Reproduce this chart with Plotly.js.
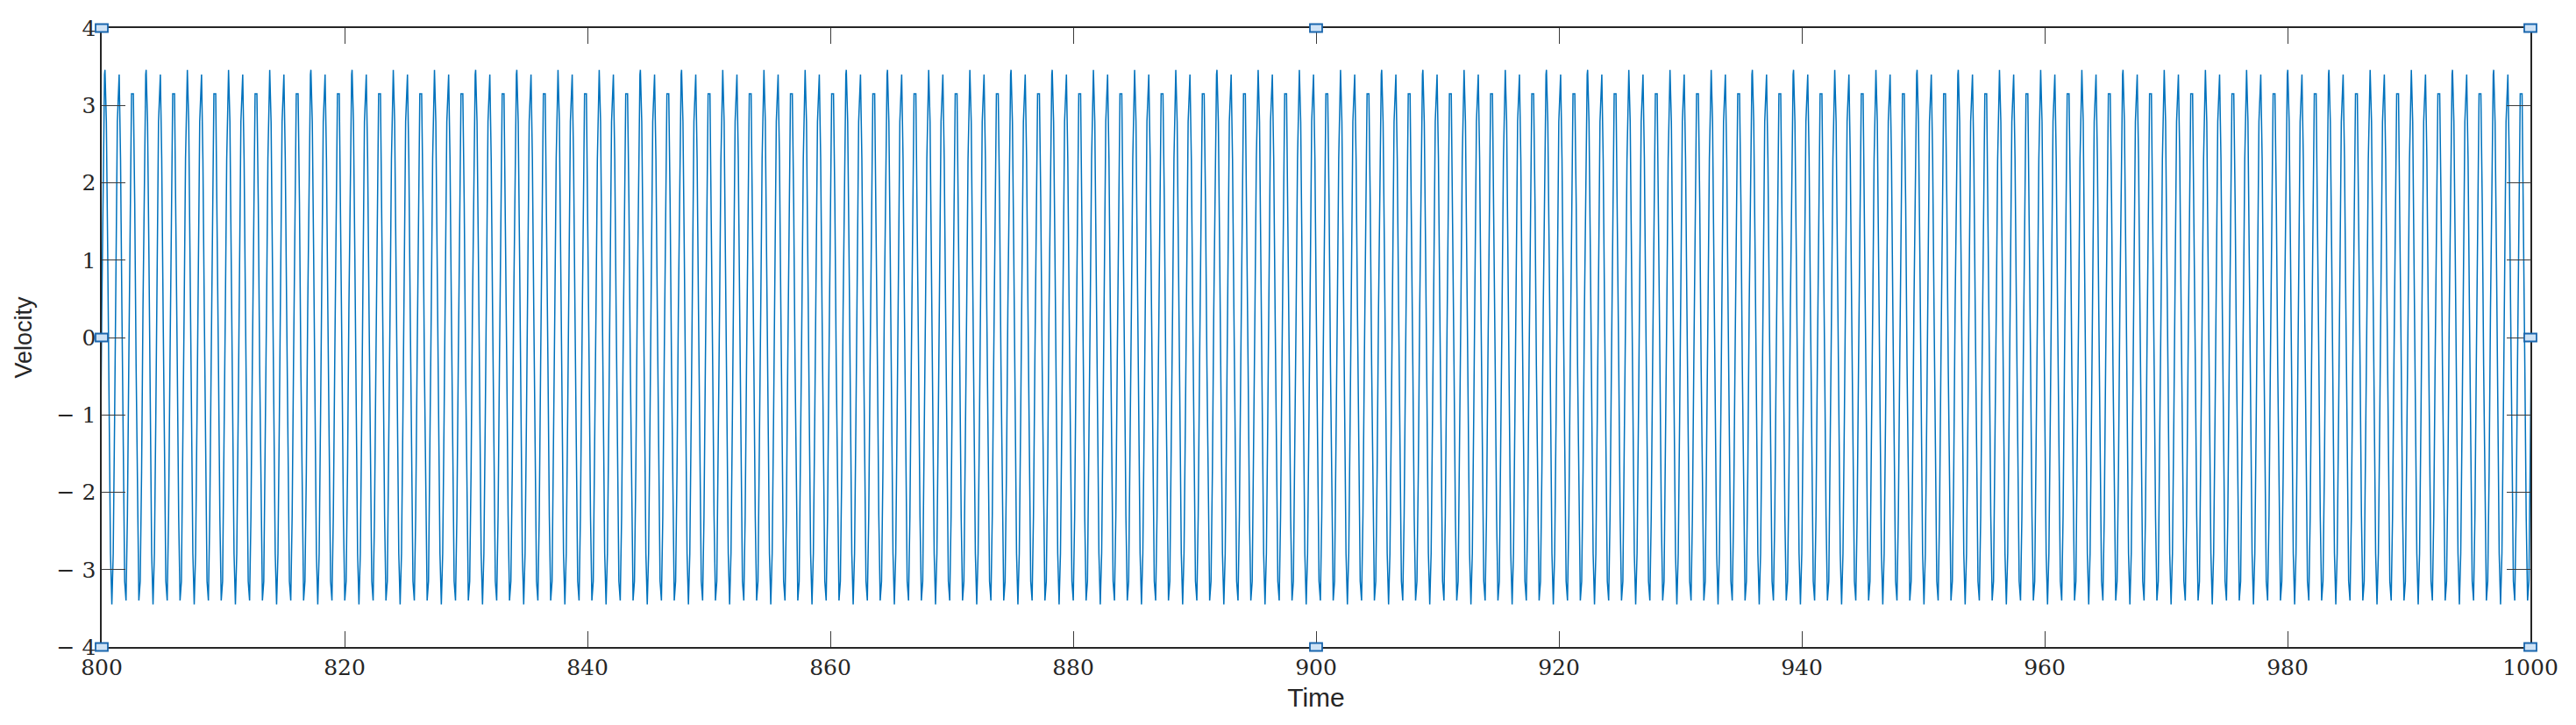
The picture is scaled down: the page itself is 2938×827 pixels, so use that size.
<!DOCTYPE html>
<html>
<head>
<meta charset="utf-8">
<script src="https://cdn.plot.ly/plotly-3.0.1.min.js"></script>
<style>
  html, body { margin: 0; padding: 0; background: #ffffff; }
  #chart { width: 2938px; height: 827px; }
</style>
</head>
<body>
<div id="chart"></div>
<script>
// ---- values ----
// Time of the first full positive peak, length of one oscillation, number of cycles drawn
const firstPeakTime = 800.27;
const cyclePeriod = 1.1305;
const cycleCount = 178;

// One oscillation, as the sampled vertices seen in the zoomed picture
// (three sample alignments that alternate along the record)
const phaseA = [0.000, 0.100, 0.200, 0.300, 0.400, 0.500, 0.600, 0.700, 0.800, 0.900];
const valueA = [3.46, 2.79, 1.07, -1.07, -2.79, -3.45, -2.79, -1.07, 1.07, 2.79];
const phaseB = [0.033, 0.133, 0.233, 0.333, 0.433, 0.533, 0.633, 0.733, 0.833, 0.933];
const valueB = [3.40, 2.31, 0.36, -1.73, -3.15, -3.40, -2.31, -0.36, 1.73, 3.15];
const phaseC = [0.067, 0.167, 0.267, 0.367, 0.467, 0.567, 0.667, 0.767, 0.867, 0.967];
const valueC = [3.15, 1.73, -0.36, -2.31, -3.40, -3.15, -1.73, 0.36, 2.31, 3.40];
const cyclePattern = ['A', 'B', 'C'];

// Axis ticks
const xTickVals = [800, 820, 840, 860, 880, 900, 920, 940, 960, 980, 1000];
const xTickText = ['800', '820', '840', '860', '880', '900', '920', '940', '960', '980', '1000'];
const yTickVals = [-4, -3, -2, -1, 0, 1, 2, 3, 4];
const yTickText = ['\u2212 4', '\u2212 3', '\u2212 2', '\u2212 1', '0', '1', '2', '3', '4'];
const xRange = [800, 1000];
const yRange = [-4, 4];

// ---- build the series from the cycle tables ----
const templates = {
  A: { p: phaseA, v: valueA },
  B: { p: phaseB, v: valueB },
  C: { p: phaseC, v: valueC }
};
const tSeries = [];
const vSeries = [];
for (let k = -1; k < cycleCount; k++) {
  const tpl = templates[cyclePattern[((k % 3) + 3) % 3]];
  for (let i = 0; i < tpl.p.length; i++) {
    tSeries.push(firstPeakTime + (k + tpl.p[i]) * cyclePeriod);
    vSeries.push(tpl.v[i]);
  }
}

// ---- selection handles (MATLAB edit mode) ----
const handleX = [0, 0.5, 1, 0, 1, 0, 0.5, 1];
const handleY = [1, 1, 1, 0.5, 0.5, 0, 0, 0];
const shapes = handleX.map((hx, i) => ({
  type: 'rect', xref: 'paper', yref: 'paper',
  xsizemode: 'pixel', ysizemode: 'pixel',
  xanchor: hx, yanchor: handleY[i],
  x0: -7, x1: 7, y0: -4.5, y1: 4.5,
  fillcolor: '#cfe3f6',
  line: { color: '#1a66ad', width: 1.8 },
  layer: 'above'
}));

const trace = {
  type: 'scatter', mode: 'lines',
  x: tSeries, y: vSeries,
  line: { color: '#0072BD', width: 1.5 },
  hoverinfo: 'skip'
};

const tickFont = { family: 'DejaVu Serif, Liberation Serif, serif', size: 25, color: '#262626' };

const layout = {
  width: 2938, height: 827,
  margin: { l: 116, r: 52, t: 32, b: 89, pad: 0 },
  paper_bgcolor: '#ffffff', plot_bgcolor: '#ffffff',
  showlegend: false,
  xaxis: {
    range: xRange, tickmode: 'array', tickvals: xTickVals, ticktext: xTickText,
    showgrid: false, zeroline: false,
    showline: true, mirror: 'ticks', linecolor: '#262626', linewidth: 1.6,
    ticks: 'inside', ticklen: 18, tickwidth: 1, tickcolor: '#3a3a3a',
    tickfont: tickFont,
    title: { text: 'Time', font: { family: 'Liberation Sans, Arial, sans-serif', size: 30, color: '#262626' }, standoff: 10 }
  },
  yaxis: {
    range: yRange, tickmode: 'array', tickvals: yTickVals, ticktext: yTickText,
    showgrid: false, zeroline: false,
    showline: true, mirror: 'ticks', linecolor: '#262626', linewidth: 1.6,
    ticks: 'inside', ticklen: 27, tickwidth: 1, tickcolor: '#3a3a3a',
    tickfont: tickFont,
    title: { text: 'Velocity', font: { family: 'Liberation Sans, Arial, sans-serif', size: 27, color: '#262626' }, standoff: 20 }
  },
  shapes: shapes
};

Plotly.newPlot('chart', [trace], layout, { staticPlot: true, displayModeBar: false });
</script>
</body>
</html>
